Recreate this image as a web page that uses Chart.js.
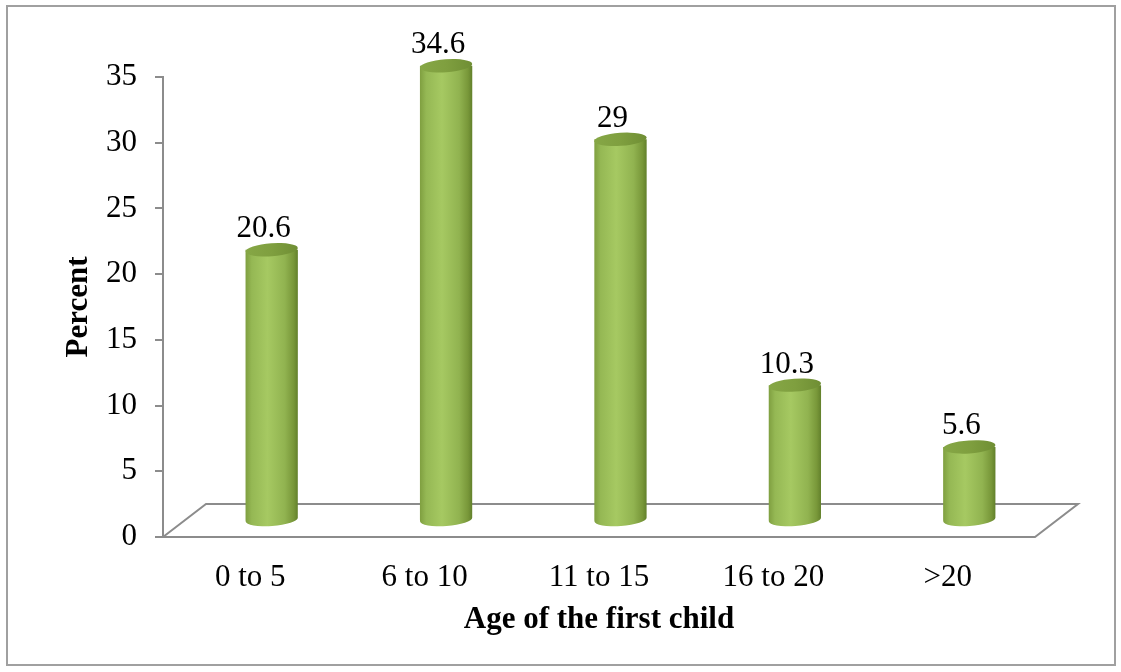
<!DOCTYPE html>
<html>
<head>
<meta charset="utf-8">
<script src="https://cdn.jsdelivr.net/npm/chart.js@4/dist/chart.umd.min.js"></script>
<style>
  html, body { margin: 0; padding: 0; background: #fff; }
  #wrap { position: relative; width: 1121px; height: 672px; }
  #frame { position: absolute; left: 6px; top: 5px; width: 1110px; height: 661px; border: 2px solid #a0a0a0; box-sizing: border-box; pointer-events: none; }
  canvas { position: absolute; left: 0; top: 0; }
</style>
</head>
<body>
<div id="wrap">
  <canvas id="c" width="1121" height="672"></canvas>
  <div id="frame"></div>
</div>
<script>
// Age of the first child (years) and share of respondents (%)
const categories = ['0 to 5', '6 to 10', '11 to 15', '16 to 20', '>20'];
const percentValues = [20.6, 34.6, 29, 10.3, 5.6];
const percentLabels = ['20.6', '34.6', '29', '10.3', '5.6'];
const yTicks = [0, 5, 10, 15, 20, 25, 30, 35];

const FONT = "'Liberation Serif', 'Times New Roman', serif";
const FONT_SIZE = 31;
const AXIS_GRAY = '#8c8c8c';
// 3D floor depth: offset of the back edge relative to the front edge
const DEPTH_X = 43, DEPTH_Y = -33;

const floorPlugin = {
  id: 'floor3d',
  beforeDatasetsDraw(chart) {
    const { ctx, chartArea: a } = chart;
    const y0 = chart.scales.y.getPixelForValue(0);
    ctx.save();
    ctx.strokeStyle = AXIS_GRAY;
    ctx.lineWidth = 2;
    ctx.beginPath();
    ctx.moveTo(a.left, y0);
    ctx.lineTo(a.left + DEPTH_X, y0 + DEPTH_Y);
    ctx.lineTo(a.right + DEPTH_X, y0 + DEPTH_Y);
    ctx.lineTo(a.right, y0);
    ctx.lineTo(a.left - 8, y0);
    ctx.stroke();
    ctx.restore();
  }
};

const cylinderPlugin = {
  id: 'cylinders',
  beforeDatasetDraw() { return false; },
  afterDatasetsDraw(chart) {
    const { ctx } = chart;
    const meta = chart.getDatasetMeta(0);
    const dx = DEPTH_X / 2, dy = DEPTH_Y / 2;
    const ry = 6.5, tilt = -0.07;
    meta.data.forEach((bar, i) => {
      const cx = bar.x + dx;
      const top = bar.y + dy;
      const base = bar.base + dy;
      const rx = bar.width / 2;
      const g = ctx.createLinearGradient(cx - rx, 0, cx + rx, 0);
      g.addColorStop(0, '#7f9f40');
      g.addColorStop(0.12, '#95b854');
      g.addColorStop(0.42, '#a6c962');
      g.addColorStop(0.75, '#91b350');
      g.addColorStop(0.92, '#789739');
      g.addColorStop(1, '#62802b');
      ctx.save();
      // body + bottom cap
      ctx.fillStyle = g;
      ctx.beginPath();
      ctx.moveTo(cx - rx, top);
      ctx.lineTo(cx - rx, base);
      ctx.ellipse(cx, base, rx, ry, tilt, Math.PI, 0, true);
      ctx.lineTo(cx + rx, top);
      ctx.closePath();
      ctx.fill();
      // top cap
      const tg = ctx.createLinearGradient(cx - rx, 0, cx + rx, 0);
      tg.addColorStop(0, '#86a746');
      tg.addColorStop(0.5, '#7f9f3f');
      tg.addColorStop(1, '#6f8e34');
      ctx.fillStyle = tg;
      ctx.beginPath();
      ctx.ellipse(cx, top, rx, ry, tilt, 0, Math.PI * 2);
      ctx.fill();
      // value label
      ctx.fillStyle = '#000';
      ctx.font = FONT_SIZE + 'px ' + FONT;
      ctx.textAlign = 'center';
      ctx.textBaseline = 'alphabetic';
      ctx.fillText(percentLabels[i], cx - 8, top - ry - 6);
      ctx.restore();
    });
  }
};

new Chart(document.getElementById('c'), {
  type: 'bar',
  data: {
    labels: categories,
    datasets: [{
      data: percentValues,
      backgroundColor: '#9bbb59',
      categoryPercentage: 1,
      barPercentage: 0.3
    }]
  },
  options: {
    responsive: false,
    animation: false,
    events: [],
    layout: { padding: { top: 77, right: 86, left: 0, bottom: 0 } },
    plugins: { legend: { display: false }, tooltip: { enabled: false } },
    scales: {
      x: {
        offset: true,
        afterFit(s) { s.height = 135; },
        grid: { display: false, drawTicks: false },
        border: { display: false },
        ticks: { color: '#000', font: { family: FONT, size: FONT_SIZE }, padding: 22, maxRotation: 0 },
        title: {
          display: true,
          text: 'Age of the first child',
          color: '#000',
          font: { family: FONT, size: FONT_SIZE, weight: 'bold' },
          padding: { top: 0, bottom: 33 }
        }
      },
      y: {
        min: 0,
        max: 35,
        afterFit(s) { s.width = 163; },
        afterBuildTicks(s) { s.ticks = yTicks.map(v => ({ value: v })); },
        grid: { drawOnChartArea: false, drawTicks: true, tickLength: 8, color: AXIS_GRAY, lineWidth: 2 },
        border: { display: true, color: AXIS_GRAY, width: 2 },
        ticks: { color: '#000', font: { family: FONT, size: FONT_SIZE }, padding: 18 },
        title: {
          display: true,
          text: 'Percent',
          color: '#000',
          font: { family: FONT, size: FONT_SIZE, weight: 'bold' },
          padding: { top: 60, bottom: 0 }
        }
      }
    }
  },
  plugins: [floorPlugin, cylinderPlugin]
});
</script>
</body>
</html>
